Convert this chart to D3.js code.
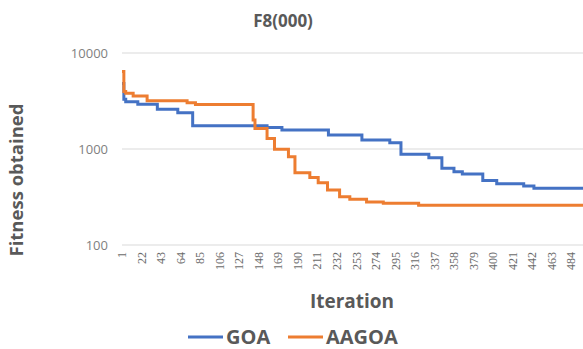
<!DOCTYPE html>
<html>
<head>
<meta charset="utf-8">
<script src="https://cdn.jsdelivr.net/npm/d3@7"></script>
<style>
  body { margin: 0; background: #fff; }
  svg { display: block; font-family: "Open Sans", sans-serif; }
</style>
</head>
<body>
<div id="chart"></div>
<script>
// valores: [iteracion, fitness] (escalon hacia adelante)
const goaSteps = [
  [1, 4800], [3, 3300], [5, 3110], [18, 2920], [39, 2600], [61, 2390],
  [77, 1750], [157, 1670], [173, 1580], [223, 1400], [259, 1240], [289, 1160],
  [301, 880], [331, 810], [345, 630], [358, 580], [367, 550], [389, 470],
  [404, 435], [433, 412], [444, 390], [500, 390]
];
const aagoaSteps = [
  [1, 6400], [3, 3960], [5, 3800], [13, 3570], [28, 3190], [71, 3040],
  [80, 2900], [142, 2000], [144, 1640], [157, 1290], [165, 995], [180, 830],
  [187, 566], [203, 505], [212, 446], [222, 374], [235, 318], [246, 300],
  [264, 281], [282, 272], [320, 259], [500, 259]
];
const yTicks = [100, 1000, 10000];
const xTicks = [1, 22, 43, 64, 85, 106, 127, 148, 169, 190, 211, 232, 253, 274,
  295, 316, 337, 358, 379, 400, 421, 442, 463, 484];
const seriesNames = ["GOA", "AAGOA"];
const seriesColors = ["#4472C4", "#ED7D31"];

const width = 583, height = 349;

const svg = d3.select("#chart").append("svg")
  .attr("width", width)
  .attr("height", height);

const x = d3.scaleLinear().domain([1, 500]).range([122, 586]);
const y = d3.scaleLog().domain([100, 10000]).range([245, 53]);

// lineas de cuadricula
svg.append("g")
  .selectAll("line")
  .data(yTicks)
  .join("line")
  .attr("x1", 122).attr("x2", width)
  .attr("y1", d => y(d)).attr("y2", d => y(d))
  .attr("stroke", "#d9d9d9")
  .attr("stroke-width", 1);

// etiquetas eje y
svg.append("g")
  .selectAll("text")
  .data(yTicks)
  .join("text")
  .attr("x", 108)
  .attr("y", d => y(d))
  .attr("dy", "0.35em")
  .attr("text-anchor", "end")
  .style("font-size", "13px")
  .style("fill", "#7f7f7f")
  .text(d => d);

// etiquetas eje x (rotadas)
svg.append("g")
  .selectAll("text")
  .data(xTicks)
  .join("text")
  .attr("transform", d => `translate(${x(d)},252) rotate(-90)`)
  .attr("dy", "0.35em")
  .attr("text-anchor", "end")
  .style("font-family", "'Liberation Serif', serif")
  .style("font-size", "12px")
  .style("fill", "#6b6b6b")
  .text(d => d);

// series
const line = d3.line()
  .x(d => x(d[0]))
  .y(d => y(d[1]))
  .curve(d3.curveStepAfter);

[goaSteps, aagoaSteps].forEach((data, i) => {
  svg.append("path")
    .datum(data)
    .attr("fill", "none")
    .attr("stroke", seriesColors[i])
    .attr("stroke-width", 3)
    .attr("d", line);
});

// titulo
svg.append("text")
  .attr("x", 283).attr("y", 27)
  .attr("text-anchor", "middle")
  .style("font-size", "17px")
  .style("font-weight", "bold")
  .style("fill", "#595959")
  .text("F8(000)");

// titulo eje y
svg.append("text")
  .attr("transform", "translate(23,180) rotate(-90)")
  .attr("text-anchor", "middle")
  .style("font-size", "18.5px")
  .style("font-weight", "bold")
  .style("fill", "#595959")
  .text("Fitness obtained");

// titulo eje x
svg.append("text")
  .attr("x", 352).attr("y", 308)
  .attr("text-anchor", "middle")
  .style("font-size", "19px")
  .style("font-weight", "bold")
  .style("fill", "#595959")
  .text("Iteration");

// leyenda
const legendX = [188, 288];
seriesNames.forEach((name, i) => {
  const g = svg.append("g").attr("transform", `translate(${legendX[i]},337)`);
  g.append("line")
    .attr("x1", 0).attr("x2", 35)
    .attr("stroke", seriesColors[i])
    .attr("stroke-width", 3);
  g.append("text")
    .attr("x", 38).attr("dy", "0.35em")
    .style("font-size", "20px")
    .style("font-weight", "bold")
    .style("fill", "#595959")
    .text(name);
});
</script>
</body>
</html>
